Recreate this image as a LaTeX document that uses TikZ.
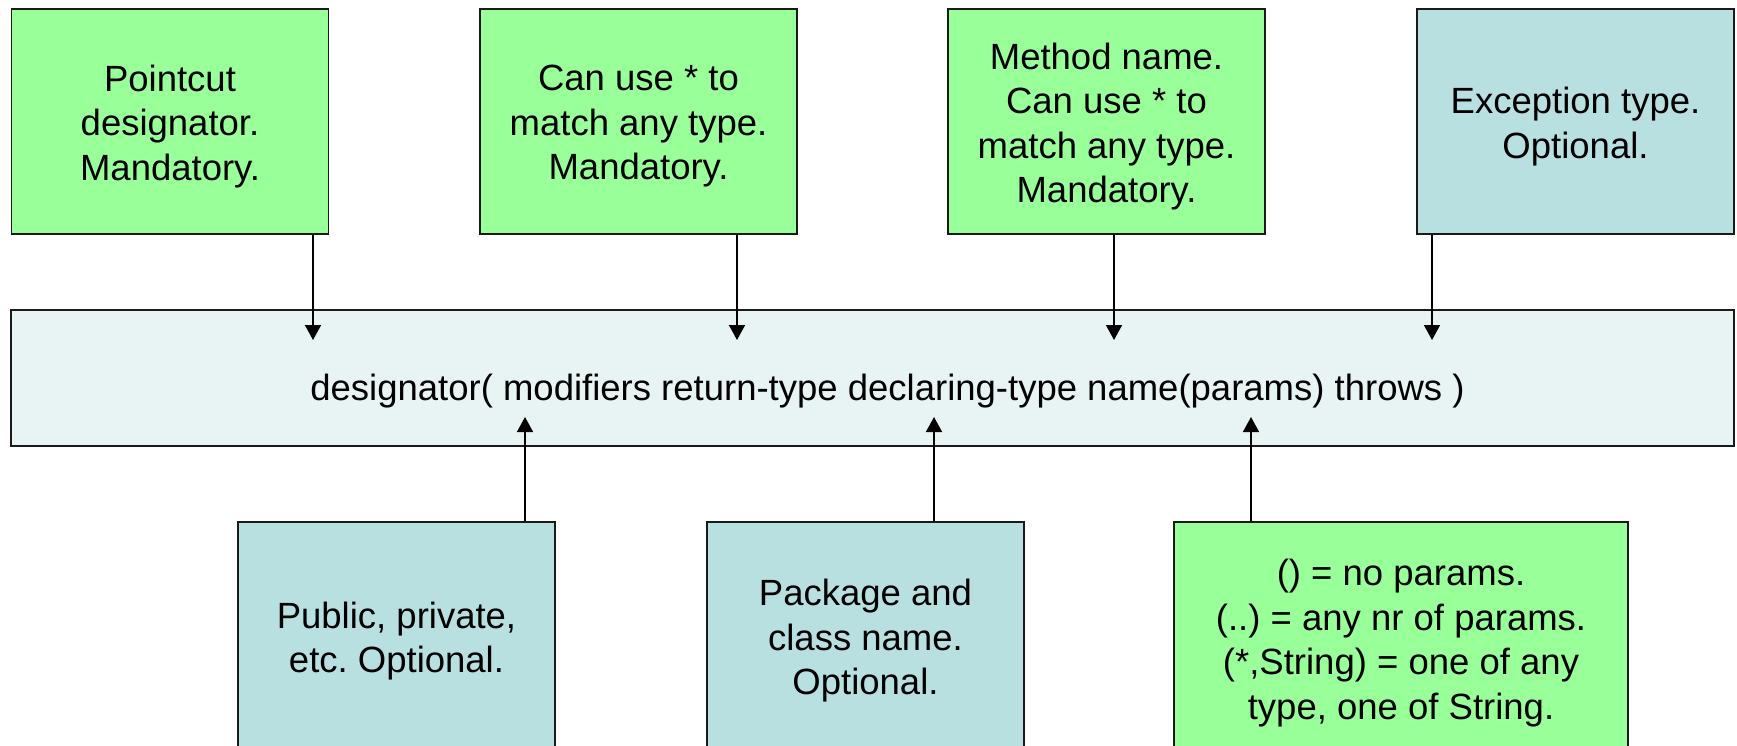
\documentclass[tikz,border=0pt]{standalone}
\usepackage{fontspec}
\setmainfont{Liberation Sans}
\usetikzlibrary{arrows.meta}
\frenchspacing

\definecolor{reqgreen}{HTML}{99FF99}
\definecolor{optblue}{HTML}{B9E0E1}
\definecolor{patbg}{HTML}{E8F4F4}
\definecolor{edge}{HTML}{1A1A1A}

\tikzset{
  x=1pt, y=-1pt,
  box/.style={draw=edge, line width=1.8pt, inner sep=0pt},
  txt/.style={inner sep=0pt, align=center,
    font=\fontsize{36.5}{44.5}\selectfont\frenchspacing},
  mandatory/.style={box, fill=reqgreen},
  optional/.style={box, fill=optblue},
  topbox/.style={minimum width=317pt, minimum height=225pt},
  botbox/.style={minimum height=234pt},
  link/.style={draw=black, line width=1.6pt,
    -{Triangle[length=15pt, width=16pt]}},
}

\begin{document}
\begin{tikzpicture}
\useasboundingbox (0,0) rectangle (1737,746);
\clip (0,0) rectangle (1737,746);

% the pointcut pattern
\node[box, fill=patbg, minimum width=1723pt, minimum height=136pt]
  (pattern) at (872.5,378) {};
\node[txt] at ([xshift=15pt, yshift=-13pt]pattern.center)
  {designator( modifiers return-type declaring-type name(params) throws )};

% explanations above the pattern
\node[mandatory, topbox] (desig) at (170,121.5) {};
\node[mandatory, topbox] (rtype) at (638.5,121.5) {};
\node[mandatory, topbox] (mname) at (1106.5,121.5) {};
\node[optional, topbox] (exc) at (1575.5,121.5) {};
\node[txt] at ([yshift=-5pt]desig.center) {Pointcut\\designator.\\Mandatory.};
\node[txt] at ([yshift=-5pt]rtype.center) {Can use * to\\match any type.\\Mandatory.};
\node[txt] at ([yshift=-5pt]mname.center) {Method name.\\Can use * to\\match any type.\\Mandatory.};
\node[txt] at ([yshift=-5pt]exc.center) {Exception type.\\Optional.};

% explanations below the pattern
\node[optional, botbox, minimum width=317pt] (mods) at (396.5,639) {};
\node[optional, botbox, minimum width=317pt] (decl) at (865.5,639) {};
\node[mandatory, botbox, minimum width=454pt] (params) at (1401,639) {};
\node[txt] at ([yshift=-2pt]mods.center) {Public, private,\\etc. Optional.};
\node[txt] at ([yshift=-2pt]decl.center) {Package and\\class name.\\Optional.};
\node[txt] at ([yshift=-4pt]params.center)
  {() = no params.\\(..) = any nr of params.\\(*,String) = one of any\\type, one of String.};

% targets inside the pattern
\coordinate (tDesig) at (313,340);
\coordinate (tRtype) at (737,340);
\coordinate (tMname) at (1114,340);
\coordinate (tExc)   at (1432,340);
\coordinate (tMods)   at (525,417);
\coordinate (tDecl)   at (934,417);
\coordinate (tParams) at (1251,417);

% connectors
\draw[link] (desig.south -| tDesig) -- (tDesig);
\draw[link] (rtype.south -| tRtype) -- (tRtype);
\draw[link] (mname.south -| tMname) -- (tMname);
\draw[link] (exc.south -| tExc) -- (tExc);
\draw[link] (mods.north -| tMods) -- (tMods);
\draw[link] (decl.north -| tDecl) -- (tDecl);
\draw[link] (params.north -| tParams) -- (tParams);
\end{tikzpicture}
\end{document}
